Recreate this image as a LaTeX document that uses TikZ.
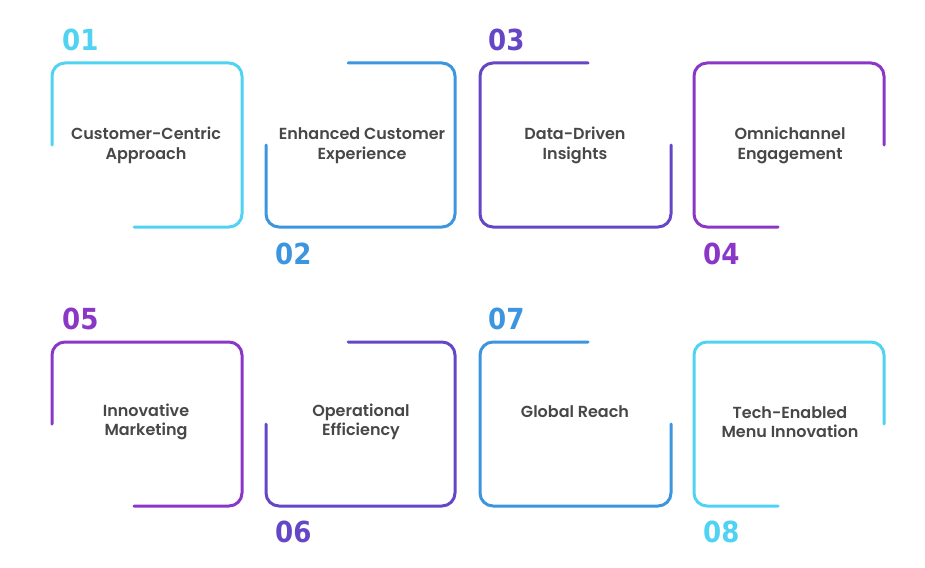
\documentclass[tikz,border=0pt]{standalone}
\usepackage{fontspec}
\setmainfont{Poppins}
\newfontfamily\labelfont{Poppins SemiBold}
\newfontfamily\numfont{DejaVu Sans Condensed}[BoldFont={DejaVu Sans Condensed Bold}]

\definecolor{cyanline}{HTML}{50D3F2}
\definecolor{blueline}{HTML}{3C95DF}
\definecolor{indigoline}{HTML}{6547C6}
\definecolor{violetline}{HTML}{8A37C7}
\definecolor{labelgray}{HTML}{474747}

\tikzset{
  frame/.style={line width=3pt, rounded corners=13pt, line cap=round},
  label/.style={align=center, inner sep=0pt, text=labelgray,
    font=\labelfont\fontsize{16}{19.5}\selectfont},
  num/.style={anchor=west, inner sep=0pt, font=\numfont\bfseries\fontsize{29}{30}\selectfont}
}

\begin{document}
\begin{tikzpicture}[x=1pt, y=-1pt]
\useasboundingbox (0,0) rectangle (925,567);

% Top row frames
\draw[frame, cyanline] (52,145) -- (52,63) -- (242,63) -- (242,227) -- (134,227);
\draw[frame, blueline] (348,63) -- (455,63) -- (455,227) -- (266,227) -- (266,145);
\draw[frame, indigoline] (588,63) -- (480,63) -- (480,227) -- (671,227) -- (671,145);
\draw[frame, violetline] (778,227) -- (694,227) -- (694,63) -- (884,63) -- (884,145);

% Bottom row frames
\draw[frame, violetline] (52,424) -- (52,342) -- (242,342) -- (242,506) -- (134,506);
\draw[frame, indigoline] (348,342) -- (455,342) -- (455,506) -- (266,506) -- (266,424);
\draw[frame, blueline] (588,342) -- (480,342) -- (480,506) -- (671,506) -- (671,424);
\draw[frame, cyanline] (778,506) -- (694,506) -- (694,342) -- (884,342) -- (884,424);

% Numbers
\node[num, text=cyanline] (n1) at (62,40) {01};
\node[num, text=blueline] (n2) at (275,254) {02};
\node[num, text=indigoline] (n3) at (488,40) {03};
\node[num, text=violetline] (n4) at (703,254) {04};
\node[num, text=violetline] (n5) at (62,319) {05};
\node[num, text=indigoline] (n6) at (275,532) {06};
\node[num, text=blueline] (n7) at (488,319) {07};
\node[num, text=cyanline] (n8) at (703,532) {08};

% Labels
\node[label] (customer) at (146,145.5) {Customer-Centric\\Approach};
\node[label] (experience) at (362,145.5) {Enhanced Customer\\Experience};
\node[label] (data) at (575,145.5) {Data-Driven\\Insights};
\node[label] (omni) at (790,145.5) {Omnichannel\\Engagement};
\node[label] (marketing) at (146,422) {Innovative\\Marketing};
\node[label] (efficiency) at (361,422) {Operational\\Efficiency};
\node[label] (reach) at (575,412) {Global Reach};
\node[label] (menu) at (790,422) {Tech-Enabled\\Menu Innovation};
\end{tikzpicture}
\end{document}
